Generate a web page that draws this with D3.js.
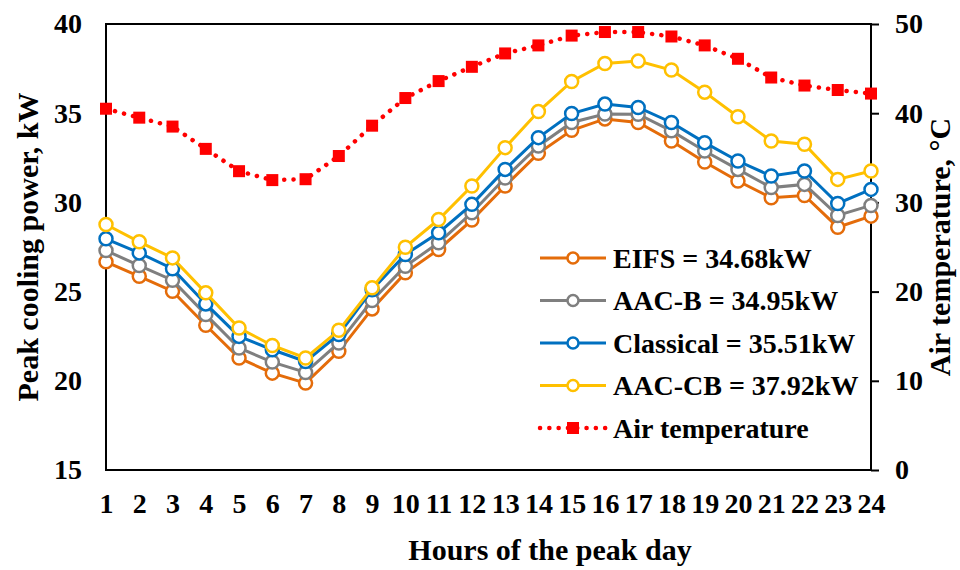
<!DOCTYPE html>
<html><head><meta charset="utf-8">
<script src="https://cdn.jsdelivr.net/npm/d3@7"></script>
<style>body{margin:0;background:#fff}svg{display:block}text{font-family:"Liberation Serif","Times New Roman",serif;font-weight:bold;fill:#000}</style>
</head><body><svg id="c" width="960" height="570"></svg>
<script>
const hours = d3.range(1, 25);
const eifs = [26.67, 25.86, 25.02, 23.11, 21.28, 20.43, 19.87, 21.65, 24.03, 26.05, 27.36, 29.01, 30.92, 32.75, 34.04, 34.68, 34.48, 33.44, 32.26, 31.20, 30.26, 30.39, 28.61, 29.23];
const aacB = [27.30, 26.46, 25.64, 23.71, 21.84, 21.05, 20.47, 22.12, 24.50, 26.42, 27.74, 29.42, 31.37, 33.16, 34.48, 34.95, 34.94, 34.01, 32.88, 31.85, 30.83, 31.01, 29.27, 29.83];
const classical = [27.96, 27.17, 26.28, 24.31, 22.49, 21.74, 21.08, 22.60, 25.10, 27.08, 28.30, 29.89, 31.85, 33.63, 34.98, 35.51, 35.32, 34.48, 33.35, 32.32, 31.48, 31.76, 29.94, 30.73];
const aacCB = [28.76, 27.79, 26.89, 24.93, 22.96, 21.98, 21.28, 22.83, 25.21, 27.49, 29.04, 30.92, 33.07, 35.09, 36.78, 37.79, 37.92, 37.42, 36.18, 34.80, 33.44, 33.26, 31.29, 31.76];
const airTemp = [40.5, 39.5, 38.5, 36.0, 33.5, 32.5, 32.6, 35.2, 38.6, 41.7, 43.6, 45.2, 46.7, 47.6, 48.7, 49.1, 49.1, 48.6, 47.6, 46.1, 44.0, 43.1, 42.6, 42.2];
const leftTicks = [15, 20, 25, 30, 35, 40];
const rightTicks = [0, 10, 20, 30, 40, 50];
const seriesNames = ["EIFS = 34.68kW", "AAC-B = 34.95kW", "Classical = 35.51kW", "AAC-CB = 37.92kW"];
const seriesColors = ["#E46C0A", "#7F7F7F", "#0070C0", "#FFC000"];
const airName = "Air temperature";
const airColor = "#FF0000";

const svg = d3.select("#c");
const L = 106, R = 871, T = 24, B = 470;
const FS = 28, TS = 30;
const x = d3.scalePoint().domain(hours).range([L, R]);
const yL = d3.scaleLinear().domain([15, 40]).range([B, T]);
const yR = d3.scaleLinear().domain([0, 50]).range([B, T]);

function styleText(g) {
  g.selectAll("text").attr("font-size", FS).style("font-family", '"Liberation Serif","Times New Roman",serif').style("font-weight", "bold").attr("fill", "#000");
}

// frame
svg.append("rect").attr("x", L).attr("y", T).attr("width", R - L).attr("height", B - T)
  .attr("fill", "none").attr("stroke", "#000").attr("stroke-width", 2);

// left axis labels
const ax = svg.append("g").attr("transform", `translate(${L},0)`)
  .call(d3.axisLeft(yL).tickValues(leftTicks).tickSize(0).tickPadding(24));
ax.select(".domain").remove();
styleText(ax);

// right axis
const ar = svg.append("g").attr("transform", `translate(${R},0)`)
  .call(d3.axisRight(yR).tickValues(rightTicks).tickSize(8).tickPadding(16));
ar.select(".domain").remove();
ar.selectAll("line").attr("stroke", "#000").attr("stroke-width", 2);
styleText(ar);

// bottom axis
const axb = svg.append("g").attr("transform", `translate(0,${B})`)
  .call(d3.axisBottom(x).tickSize(0).tickPadding(23));
axb.select(".domain").remove();
styleText(axb);

// titles
svg.append("text").attr("x", 550).attr("y", 560).attr("text-anchor", "middle").attr("font-size", TS).text("Hours of the peak day");
svg.append("text").attr("transform", `translate(38,${(T + B) / 2}) rotate(-90)`).attr("text-anchor", "middle").attr("font-size", TS).text("Peak cooling power, kW");
svg.append("text").attr("transform", `translate(950,${(T + B) / 2}) rotate(-90)`).attr("text-anchor", "middle").attr("font-size", TS).text("Air temperature, °C");

// series
const allSeries = [eifs, aacB, classical, aacCB];
const line = d3.line().x((d, i) => x(hours[i])).y(d => yL(d));
allSeries.forEach((s, k) => {
  const g = svg.append("g");
  g.append("path").datum(s).attr("d", line).attr("fill", "none").attr("stroke", seriesColors[k]).attr("stroke-width", 3);
  g.selectAll("circle").data(s).join("circle")
    .attr("cx", (d, i) => x(hours[i])).attr("cy", d => yL(d)).attr("r", 6.5)
    .attr("fill", "#fff").attr("stroke", seriesColors[k]).attr("stroke-width", 2.5);
});

// air temperature
const lineR = d3.line().x((d, i) => x(hours[i])).y(d => yR(d));
svg.append("path").datum(airTemp).attr("d", lineR).attr("fill", "none").attr("stroke", airColor)
  .attr("stroke-width", 4.5).attr("stroke-linecap", "round").attr("stroke-dasharray", "0.1 9.2");
svg.append("g").selectAll("rect").data(airTemp).join("rect")
  .attr("x", (d, i) => x(hours[i]) - 6).attr("y", d => yR(d) - 6).attr("width", 12).attr("height", 12).attr("fill", airColor);

// legend
const lg = svg.append("g");
const rowY = [258, 300.5, 343, 385.5, 428];
seriesNames.forEach((n, k) => {
  lg.append("line").attr("x1", 540).attr("x2", 606).attr("y1", rowY[k]).attr("y2", rowY[k]).attr("stroke", seriesColors[k]).attr("stroke-width", 3);
  lg.append("circle").attr("cx", 573).attr("cy", rowY[k]).attr("r", 5.5).attr("fill", "#fff").attr("stroke", seriesColors[k]).attr("stroke-width", 2.5);
  lg.append("text").attr("x", 613).attr("y", rowY[k]).attr("dy", "0.35em").attr("font-size", FS).text(n);
});
lg.append("line").attr("x1", 540).attr("x2", 606).attr("y1", rowY[4]).attr("y2", rowY[4]).attr("stroke", airColor)
  .attr("stroke-width", 4.5).attr("stroke-linecap", "round").attr("stroke-dasharray", "0.1 9.2");
lg.append("rect").attr("x", 567).attr("y", rowY[4] - 6).attr("width", 12).attr("height", 12).attr("fill", airColor);
lg.append("text").attr("x", 613).attr("y", rowY[4]).attr("dy", "0.35em").attr("font-size", FS).text(airName);
</script></body></html>
